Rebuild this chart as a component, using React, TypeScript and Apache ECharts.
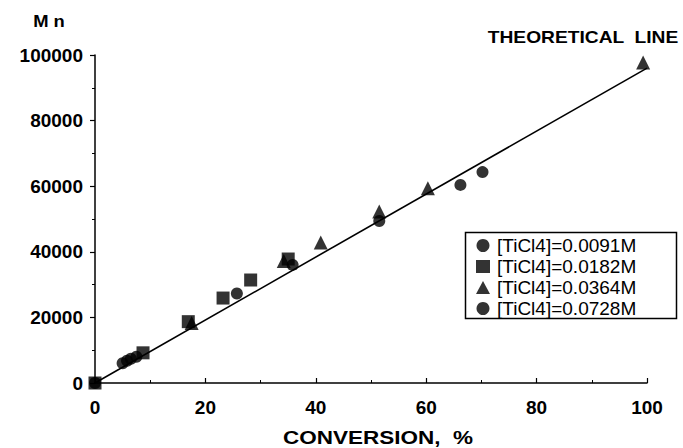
import React, { useEffect, useRef } from "react";
import * as echarts from "echarts";

const xTicks = [0, 20, 40, 60, 80, 100];
const yTicks = [0, 20000, 40000, 60000, 80000, 100000];

const seriesNames = [
  "[TiCl4]=0.0091M",
  "[TiCl4]=0.0182M",
  "[TiCl4]=0.0364M",
  "[TiCl4]=0.0728M",
];

const s0091: [number, number][] = [
  [0, 0],
  [5, 6000],
  [6.5, 7400],
  [25.7, 27300],
  [35.8, 36000],
  [51.5, 49400],
];
const s0182: [number, number][] = [
  [0, 0],
  [8.7, 9200],
  [16.9, 18700],
  [23.2, 25900],
  [28.2, 31400],
  [35, 37800],
];
const s0364: [number, number][] = [
  [17.5, 18300],
  [34.2, 37200],
  [40.9, 42800],
  [51.5, 52300],
  [60.3, 59400],
  [99.3, 97700],
];
const s0728: [number, number][] = [
  [5.8, 6800],
  [7.5, 8000],
  [66.2, 60400],
  [70.2, 64300],
];
const theoretical: [number, number][] = [
  [0, 0],
  [100, 96000],
];

const FONT = "Liberation Sans, Arial, Helvetica, sans-serif";

export default function App() {
  const ref = useRef<HTMLDivElement>(null);
  useEffect(() => {
    if (!ref.current) return;
    const chart = echarts.init(ref.current, undefined, { renderer: "svg" });
    const markerSeries = (name: string, data: [number, number][], symbol: string, size: number) => ({
      type: "scatter",
      name,
      data,
      symbol,
      symbolSize: size,
      itemStyle: { color: "#000" },
      z: 3,
    });
    chart.setOption({
      animation: false,
      backgroundColor: "#fff",
      textStyle: { fontFamily: FONT, color: "#000" },
      grid: { left: 95, right: 36, top: 55, height: 328 },
      xAxis: {
        type: "value",
        min: xTicks[0],
        max: xTicks[xTicks.length - 1],
        interval: 20,
        axisLine: { lineStyle: { color: "#000", width: 1.5 } },
        axisTick: { inside: true, length: 5, lineStyle: { color: "#000", width: 1.2 } },
        minorTick: { show: true, splitNumber: 2, length: 3, lineStyle: { color: "#000", width: 1 } },
        splitLine: { show: false },
        axisLabel: {
          margin: 15,
          fontSize: 19,
          fontWeight: "bold",
          color: "#000",
          fontFamily: FONT,
          formatter: (v: number) => String(v),
        },
      },
      yAxis: {
        type: "value",
        min: yTicks[0],
        max: yTicks[yTicks.length - 1],
        interval: 20000,
        axisLine: { show: true, lineStyle: { color: "#000", width: 1.5 } },
        axisTick: { show: true, inside: false, length: 5, lineStyle: { color: "#000", width: 1.2 } },
        minorTick: { show: true, splitNumber: 2, length: 3, lineStyle: { color: "#000", width: 1 } },
        splitLine: { show: false },
        axisLabel: {
          margin: 12,
          fontSize: 19,
          fontWeight: "bold",
          color: "#000",
          fontFamily: FONT,
          formatter: (v: number) => String(v),
        },
      },
      legend: {
        orient: "vertical",
        left: 466,
        top: 232,
        data: [
          { name: seriesNames[0], icon: "circle" },
          { name: seriesNames[1], icon: "rect" },
          { name: seriesNames[2], icon: "triangle" },
          { name: seriesNames[3], icon: "circle" },
        ],
        borderWidth: 0,
        padding: [4, 4, 4, 10],
        itemGap: 2,
        itemWidth: 14,
        itemHeight: 13,
        textStyle: { fontSize: 19, color: "#000", fontFamily: FONT, padding: [0, 0, 0, 2] },
      },
      graphic: [
        {
          type: "rect",
          shape: { x: 465.5, y: 232.5, width: 211, height: 86 },
          style: { fill: "none", stroke: "#000", lineWidth: 1.5 },
          z: 10,
        },
        {
          type: "text",
          x: 49,
          y: 21,
          scaleX: 1.15,
          style: {
            text: "M n",
            font: `bold 16px ${FONT}`,
            fill: "#000",
            align: "center",
            verticalAlign: "middle",
          },
        },
        {
          type: "text",
          x: 583,
          y: 38,
          scaleX: 1.2,
          style: {
            text: "THEORETICAL  LINE",
            font: `bold 16px ${FONT}`,
            fill: "#000",
            align: "center",
            verticalAlign: "middle",
          },
        },
        {
          type: "text",
          x: 378,
          y: 438,
          scaleX: 1.25,
          style: {
            text: "CONVERSION,  %",
            font: `bold 18px ${FONT}`,
            fill: "#000",
            align: "center",
            verticalAlign: "middle",
          },
        },
      ],
      series: [
        {
          type: "line",
          name: "theoretical",
          data: theoretical,
          showSymbol: false,
          symbol: "none",
          lineStyle: { color: "#000", width: 1.6 },
          z: 2,
        },
        markerSeries(seriesNames[0], s0091, "circle", 12),
        markerSeries(seriesNames[1], s0182, "rect", 13),
        markerSeries(seriesNames[2], s0364, "triangle", 14),
        markerSeries(seriesNames[3], s0728, "circle", 12),
      ],
    });
    return () => chart.dispose();
  }, []);
  return <div ref={ref} style={{ width: 683, height: 448, position: "absolute", left: 0, top: 0 }} />;
}
